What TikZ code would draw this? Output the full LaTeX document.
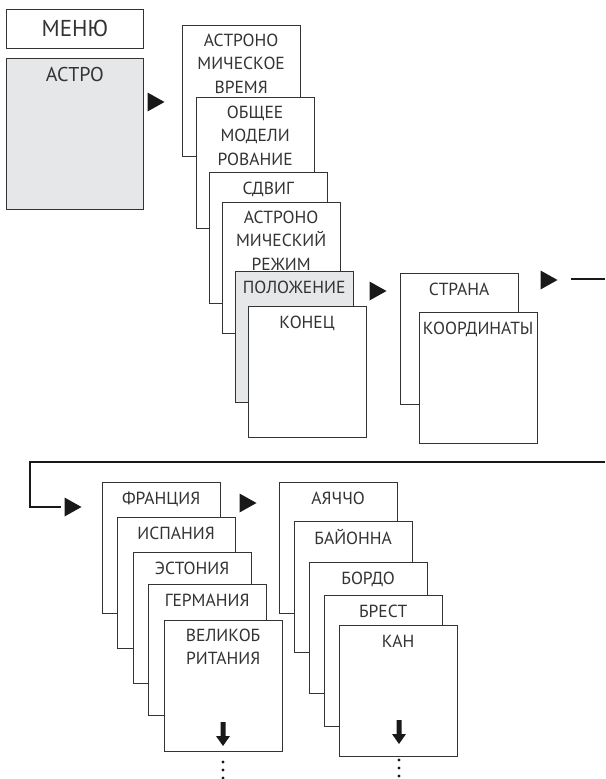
\documentclass[tikz,border=0pt]{standalone}
\usepackage{fontspec}
\setmainfont{PT Sans}
\definecolor{rahmen}{HTML}{333333}
\definecolor{grau}{HTML}{E6E7E8}
\tikzset{
  karte/.style={draw=rahmen, line width=0.8pt, fill=white, anchor=north west,
    minimum width=117.5pt, minimum height=131pt, inner sep=0pt},
  kartetext/.style={anchor=north, align=center, text=rahmen, inner sep=0pt,
    font=\fontsize{17.5}{23.5}\selectfont, yshift=-8.5pt,
    execute at begin node={\rule{0pt}{13.5pt}}},
  pfeil/.style={fill=black!90},
  linie/.style={draw=black!90, line width=2.3pt},
}
% Dreieck als Pfeilspitze, Mitte bei #1
\newcommand{\dreieck}[1]{\fill[pfeil, shift={(#1)}] (-8.5,-9.5) -- (8.5,0) -- (-8.5,9.5) -- cycle;}
% Pfeil nach unten und Punkte
\newcommand{\runter}[2]{%
  \fill[pfeil, shift={(#1,#2)}] (-2.5,0) -- (2.5,0) -- (2.5,14) -- (7,14) -- (0,24) -- (-7,14) -- (-2.5,14) -- cycle;
  \foreach \d in {40,48,56} \fill[pfeil] (#1,#2+\d) circle (1.7pt);}
\begin{document}
\begin{tikzpicture}[x=1pt, y=-1pt]
    \useasboundingbox (0,0) rectangle (605,779);
    % Menue
    \node[draw=rahmen, line width=0.8pt, anchor=north west, minimum width=137pt, minimum height=39pt,
      text=rahmen, font=\fontsize{23}{24}\selectfont] (menu) at (6,9) {МЕНЮ};
    \node[karte, fill=grau, minimum width=137pt, minimum height=151pt,
      label={[kartetext, font=\fontsize{20}{22}\selectfont, yshift=-1pt]north:АСТРО}] (astro) at (6,58) {};
    \dreieck{156,102}
    % erste Ebene
    \node[karte, label={[kartetext]north:АСТРОНО\\МИЧЕСКОЕ\\ВРЕМЯ}] (zeit) at (182,25) {};
    \node[karte, label={[kartetext]north:ОБЩЕЕ\\МОДЕЛИ\\РОВАНИЕ}] (modell) at (196,97) {};
    \node[karte, label={[kartetext]north:СДВИГ}] (versatz) at (209,172) {};
    \node[karte, label={[kartetext]north:АСТРОНО\\МИЧЕСКИЙ\\РЕЖИМ}] (modus) at (222,202) {};
    \node[karte, fill=grau, label={[kartetext]north:ПОЛОЖЕНИЕ}] (position) at (235,271) {};
    \node[karte, label={[kartetext]north:КОНЕЦ}] (ende) at (248,306) {};
    \dreieck{378,291}
    % Position
    \node[karte, label={[kartetext]north:СТРАНА}] (land) at (400,273) {};
    \node[karte, label={[kartetext]north:КООРДИНАТЫ}] (koord) at (419,312) {};
    \dreieck{549,280}
    \coordinate (weiterA) at (571,279);
    \coordinate (weiterB) at (605,279);
    \draw[linie] (weiterA) -- (weiterB);
    % Umbruch
    \coordinate (rechts) at (605,462);
    \coordinate (rein) at (61,507);
    \draw[linie] (rechts) -- (30,462) |- (rein);
    \dreieck{73,507}
    % Laender
    \node[karte, label={[kartetext]north:ФРАНЦИЯ}] (fr) at (102,482) {};
    \node[karte, label={[kartetext]north:ИСПАНИЯ}] (es) at (117,517) {};
    \node[karte, label={[kartetext]north:ЭСТОНИЯ}] (ee) at (133,552) {};
    \node[karte, label={[kartetext]north:ГЕРМАНИЯ}] (de) at (148,584) {};
    \node[karte, label={[kartetext]north:ВЕЛИКОБ\\РИТАНИЯ}] (gb) at (164,620) {};
    \runter{223}{722}
    \dreieck{248,503}
    % Staedte
    \node[karte, label={[kartetext]north:АЯЧЧО}] (ajaccio) at (279,482) {};
    \node[karte, label={[kartetext]north:БАЙОННА}] (bayonne) at (294,521) {};
    \node[karte, label={[kartetext]north:БОРДО}] (bordeaux) at (309,562) {};
    \node[karte, label={[kartetext]north:БРЕСТ}] (brest) at (324,595) {};
    \node[karte, label={[kartetext]north:КАН}] (caen) at (339,625) {};
    \runter{399}{720}
\end{tikzpicture}
\end{document}
